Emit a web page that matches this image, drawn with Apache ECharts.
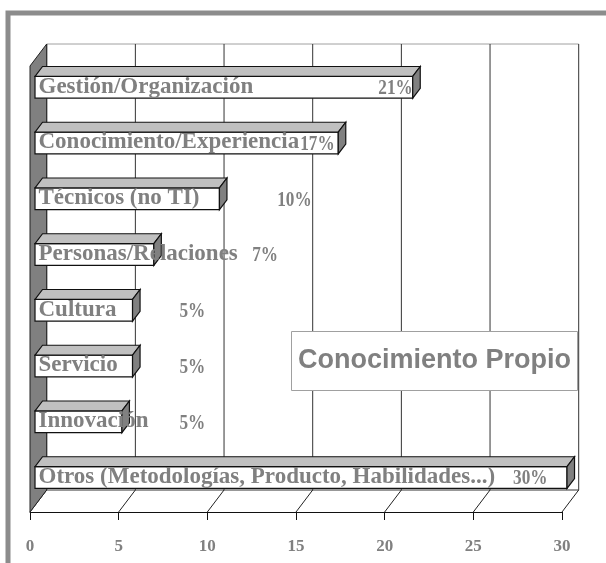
<!DOCTYPE html>
<html>
<head>
<meta charset="utf-8">
<script src="https://cdn.jsdelivr.net/npm/echarts@6/dist/echarts.min.js"></script>
<style>html,body{margin:0;padding:0;background:#fff}#c{width:606px;height:563px}</style>
</head>
<body>
<div id="c"></div>
<script>
const categories = ['Gestión/Organización', 'Conocimiento/Experiencia', 'Técnicos (no TI)', 'Personas/Relaciones', 'Cultura', 'Servicio', 'Innovación', 'Otros (Metodologías, Producto, Habilidades...)'];
const values = [21.3, 17.1, 10.4, 6.7, 5.5, 5.5, 4.9, 30.0];
const pctLabels = ['21%', '17%', '10%', '7%', '5%', '5%', '5%', '30%'];
const tickValues = [0, 5, 10, 15, 20, 25, 30];
const boxTitle = 'Conocimiento Propio';

// layout (3D projection + label placement)
const DX = 16.7, DY = -22;      // full depth offset of the back wall
const D1 = 0.3, D2 = 0.75;      // bar depth (front / back) as fraction of depth
const pctLabelAt = [21.3, 16.9, 15.6, 13.7, 9.6, 9.6, 9.6, 28.9];
const GRAY = '#808080';
const SERIF = '"Liberation Serif", "Times New Roman", serif';

const chart = echarts.init(document.getElementById('c'));

function wallRender(params, api) {
  const cs = params.coordSys;
  const top = cs.y, bot = cs.y + cs.height;
  const ch = [];
  const x0 = api.coord([tickValues[0], 0])[0];
  const xN = api.coord([tickValues[tickValues.length - 1], 0])[0];
  ch.push({type: 'line', shape: {x1: x0 + DX, y1: top + DY, x2: xN + DX, y2: top + DY}, style: {stroke: '#a0a0a0', lineWidth: 1}});
  ch.push({type: 'line', shape: {x1: x0 + DX, y1: bot + DY, x2: xN + DX, y2: bot + DY}, style: {stroke: '#333', lineWidth: 1}});
  tickValues.forEach(function (t) {
    const x = api.coord([t, 0])[0];
    ch.push({type: 'line', shape: {x1: x + DX, y1: top + DY, x2: x + DX, y2: bot + DY}, style: {stroke: '#333', lineWidth: 1}});
    ch.push({type: 'line', shape: {x1: x, y1: bot, x2: x + DX, y2: bot + DY}, style: {stroke: '#222', lineWidth: 1}});
  });
  ch.push({type: 'polygon', shape: {points: [[x0, top], [x0 + DX, top + DY], [x0 + DX, bot + DY], [x0, bot]]}, style: {fill: GRAY, stroke: '#222', lineWidth: 1}});
  return {type: 'group', children: ch};
}

function barRender(params, api) {
  const i = params.dataIndex;
  const v = api.value(0);
  const p0 = api.coord([0, i]);
  const p1 = api.coord([v, i]);
  const band = api.size([0, 1])[1];
  const h = band * 0.39;
  const ox = DX * D1, oy = DY * D1;
  const fx0 = p0[0] + ox, fx1 = p1[0] + ox;
  const fy0 = p0[1] - h / 2 + oy, fy1 = p0[1] + h / 2 + oy;
  const cy = (fy0 + fy1) / 2;
  const tx = DX * (D2 - D1), ty = DY * (D2 - D1);
  const px = api.coord([pctLabelAt[i], i])[0] + ox;
  return {
    type: 'group',
    children: [
      {type: 'rect', z2: 1, shape: {x: fx0, y: fy0, width: fx1 - fx0, height: h}, style: {fill: '#fff', stroke: '#111', lineWidth: 1.2}},
      {type: 'polygon', z2: 1, shape: {points: [[fx0, fy0], [fx1, fy0], [fx1 + tx, fy0 + ty], [fx0 + tx, fy0 + ty]]}, style: {fill: '#c0c0c0', stroke: '#111', lineWidth: 1.2}},
      {type: 'polygon', z2: 1, shape: {points: [[fx1, fy0], [fx1 + tx, fy0 + ty], [fx1 + tx, fy1 + ty], [fx1, fy1]]}, style: {fill: GRAY, stroke: '#111', lineWidth: 1.2}},
      {type: 'text', z2: 10, x: fx0 + 3.5, y: cy - 0.5, style: {text: categories[i], x: 0, y: 0, fill: GRAY, font: 'bold 23px ' + SERIF, align: 'left', verticalAlign: 'middle'}},
      {type: 'text', z2: 10, x: px, y: cy + 1.5, scaleX: 0.82, style: {text: pctLabels[i], x: 0, y: 0, fill: GRAY, font: 'bold 21px ' + SERIF, align: 'right', verticalAlign: 'middle'}}
    ]
  };
}

chart.setOption({
  animation: false,
  backgroundColor: '#fff',
  grid: {left: 30, right: 44, top: 66, bottom: 51, containLabel: false},
  xAxis: {
    type: 'value', min: 0, max: 30, interval: 5,
    axisLine: {show: true, lineStyle: {color: '#111', width: 1}},
    axisTick: {show: true, length: 8, lineStyle: {color: '#111'}},
    splitLine: {show: false},
    axisLabel: {color: GRAY, fontFamily: SERIF, fontWeight: 'bold', fontSize: 17, margin: 26}
  },
  yAxis: {
    type: 'category', data: categories, inverse: true,
    axisLine: {show: false}, axisTick: {show: false}, axisLabel: {show: false}, splitLine: {show: false}
  },
  graphic: [
    {type: 'rect', left: 5.5, top: 10.5, shape: {width: 800, height: 800}, style: {fill: 'none', stroke: '#8c8c8c', lineWidth: 5}, z: 100},
    {type: 'rect', shape: {x: 291.5, y: 331.5, width: 286, height: 59}, style: {fill: '#fff', stroke: '#a0a0a0', lineWidth: 1}, z: 101},
    {type: 'text', x: 434.5, y: 361, style: {text: boxTitle, fill: GRAY, font: 'bold 27px "Liberation Sans", Arial, sans-serif', align: 'center', verticalAlign: 'middle'}, z: 102}
  ],
  series: [
    {type: 'custom', coordinateSystem: 'cartesian2d', clip: false, silent: true, data: [[0, 0]], renderItem: wallRender, z: 1},
    {type: 'custom', coordinateSystem: 'cartesian2d', clip: false, silent: true, data: values.map(function (v, i) { return [v, i]; }), encode: {x: 0, y: 1}, renderItem: barRender, z: 2}
  ]
});
</script>
</body>
</html>
